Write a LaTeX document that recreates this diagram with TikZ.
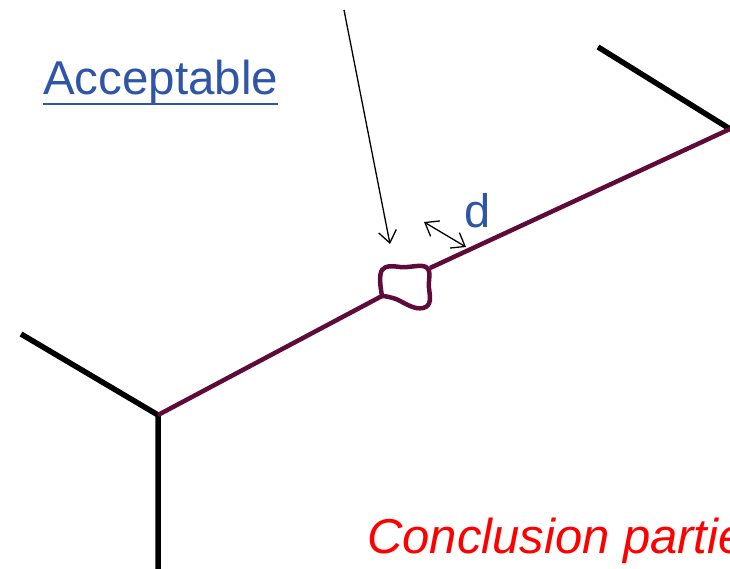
\documentclass[tikz,border=0pt]{standalone}
\usepackage{fontspec}
\setmainfont{Liberation Sans}
\usepackage{xcolor}
\definecolor{Grain}{HTML}{5E0B3A}
\definecolor{NoteBlue}{HTML}{2F56A6}
\definecolor{AlertRed}{HTML}{FF0000}
\usetikzlibrary{arrows.meta, positioning, calc}

\tikzset{
  edge/.style={line width=5.5pt, black},
  joint/.style={line width=4.5pt, Grain, line join=round},
  pointer/.style={line width=1.3pt, -{Straight Barb[length=12pt,width=18pt]}},
  label/.style={inner sep=0pt, anchor=base west}
}

\begin{document}
\begin{tikzpicture}[x=1pt, y=-1pt]
        \useasboundingbox (0,0) rectangle (730,569);
        \clip (0,0) rectangle (730,569);

        % grain corners and blob ends
        \coordinate (left) at (158,415);
        \coordinate (right) at (730,129);
        \coordinate (blobin) at (382,296);
        \coordinate (blobout) at (430,268);
        \coordinate (tip) at (344,10);

        % grain boundaries
        \draw[edge] (21,334) -- (left) -- (158,575);
        \draw[edge] (598,47) -- (right);

        % joint with the defect
        \draw[joint] (left) -- (blobin);
        \draw[joint] (blobout) -- (right);
        \draw[joint] (blobin) .. controls (380,285) and (379,275) .. (382,270)
            .. controls (386,265) and (392,266) .. (400,267)
            .. controls (410,268) and (420,264) .. (426,267)
            .. controls (432,271) and (428,280) .. (429,288)
            .. controls (430,297) and (432,306) .. (423,308)
            .. controls (414,310) and (405,303) .. (396,299)
            .. controls (390,297) and (385,296) .. (blobin) -- cycle;

        % labels
        \node[label, NoteBlue, font=\fontsize{47.5}{52}\selectfont] (accept) at (43,95) {Acceptable};
        \draw[NoteBlue, line width=2.8pt] ([yshift=-9pt]accept.base west) -- ([yshift=-9pt]accept.base east);
        \node[label, NoteBlue, font=\fontsize{47}{52}\selectfont] (dist) at (464,228) {d};
        \node[label, AlertRed, font=\fontsize{49}{53}\selectfont\itshape] (concl) at (367,553) {Conclusion partie};

        % arrows
        \coordinate (aim) at (390,244);
        \coordinate (da) at (424,222);
        \coordinate (db) at (466,247);
        \draw[pointer] (tip) -- (aim);
        \draw[pointer, {Straight Barb[length=12pt,width=18pt]}-{Straight Barb[length=12pt,width=18pt]}] (da) -- (db);
    \end{tikzpicture}
\end{document}
